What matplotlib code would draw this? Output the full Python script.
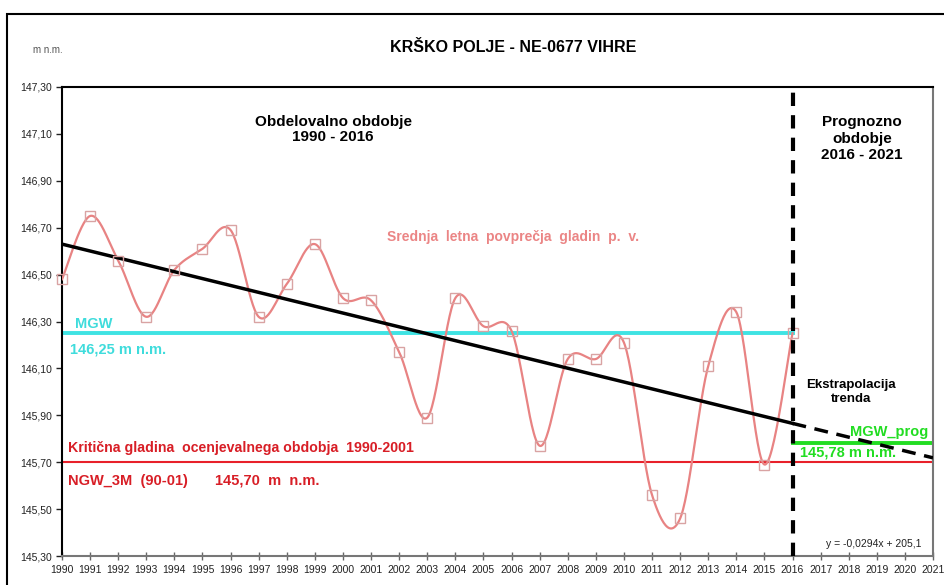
import numpy as np
import matplotlib
matplotlib.use("Agg")
import matplotlib.pyplot as plt
from matplotlib.patches import Rectangle
from matplotlib.ticker import FuncFormatter, FixedLocator, MultipleLocator

plt.rcParams['font.family'] = ['Liberation Sans', 'DejaVu Sans']

# yearly mean groundwater levels (m n.m.)
years = list(range(1990, 2017))
levels = [146.48, 146.75, 146.56, 146.32, 146.52, 146.61, 146.69, 146.32, 146.46,
          146.63, 146.40, 146.39, 146.17, 145.89, 146.40, 146.28, 146.26, 145.77,
          146.14, 146.14, 146.21, 145.56, 145.46, 146.11, 146.34, 145.69, 146.25]

y_ticks = [145.30, 145.50, 145.70, 145.90, 146.10, 146.30, 146.50, 146.70,
           146.90, 147.10, 147.30]

mgw = 146.25          # 1990-2016
mgw_prog = 145.78     # 2016-2021
ngw_3m = 145.70
trend_slope = -0.0294
trend_1990 = 146.63
split_year = 2016
end_year = 2021


def excel_smooth(x, y, n=30):
    # Catmull-Rom style bezier like Excel's "smoothed line"
    x = np.asarray(x, float)
    y = np.asarray(y, float)
    px = np.concatenate([[x[0]], x, [x[-1]]])
    py = np.concatenate([[y[0]], y, [y[-1]]])
    xs, ys = [], []
    t = np.linspace(0, 1, n)
    for i in range(1, len(px) - 2):
        p0 = np.array([px[i], py[i]])
        p3 = np.array([px[i + 1], py[i + 1]])
        p1 = p0 + (p3 - np.array([px[i - 1], py[i - 1]])) / 6
        p2 = p3 - (np.array([px[i + 2], py[i + 2]]) - p0) / 6
        b = ((1 - t) ** 3)[:, None] * p0 + (3 * (1 - t) ** 2 * t)[:, None] * p1 \
            + (3 * (1 - t) * t ** 2)[:, None] * p2 + (t ** 3)[:, None] * p3
        xs.append(b[:, 0])
        ys.append(b[:, 1])
    return np.concatenate(xs), np.concatenate(ys)


fig = plt.figure(figsize=(9.45, 5.85), dpi=100)
ax = fig.add_axes([62 / 945, 1 - 556 / 585, (933 - 62) / 945, (556 - 87) / 585])

# outer frame (cut off at right and bottom)
fig.patches.append(Rectangle((7 / 945, -0.1), 1.2, 1 - 14 / 585 + 0.1,
                             transform=fig.transFigure, fill=False,
                             edgecolor='black', linewidth=1.5, clip_on=False))

# reference lines
ax.plot([1990, split_year], [mgw, mgw], color='#3FE3E3', lw=2.8, zorder=2)
ax.plot([split_year, end_year], [mgw_prog, mgw_prog], color='#22DD22', lw=2.8, zorder=2)
ax.plot([1990, end_year], [ngw_3m, ngw_3m], color='#E8202A', lw=1.5, zorder=2)

# trend
tx = np.array([1990, split_year])
ax.plot(tx, trend_1990 + trend_slope * (tx - 1990), color='black', lw=2.5, zorder=4)
tx2 = np.array([split_year, end_year])
ax.plot(tx2, trend_1990 + trend_slope * (tx2 - 1990), color='black', lw=2.5,
        dashes=(4, 2.5), zorder=4)

# smoothed yearly means
sx, sy = excel_smooth(years, levels)
ax.plot(sx, sy, color='#E88383', lw=1.6, zorder=3)
ax.plot(years, levels, ls='none', marker='s', ms=6.5, mfc='none',
        mec='#D9A3A3', mew=1.0, zorder=5, clip_on=False)

# split line
ax.axvline(split_year, color='black', lw=3, dashes=(3.2, 2.2), zorder=6)

ax.set_xlim(1990, 2021)
ax.set_ylim(145.30, 147.30)
ax.xaxis.set_major_locator(MultipleLocator(1))
ax.yaxis.set_major_locator(FixedLocator(y_ticks))
ax.yaxis.set_major_formatter(FuncFormatter(lambda v, p: f"{v:.2f}".replace('.', ',')))
ax.tick_params(axis='both', labelsize=7.5, colors='#333333', length=4, width=1)
ax.tick_params(axis='x', colors='#666666', labelcolor='#222222', direction='inout', length=6)
ax.tick_params(axis='y', labelcolor='#222222', colors='#222222')
for s in ['left', 'top']:
    ax.spines[s].set_color('black')
    ax.spines[s].set_linewidth(1.5)
ax.spines['right'].set_color('#777777')
ax.spines['right'].set_linewidth(1.5)
ax.spines['bottom'].set_color('#777777')
ax.spines['bottom'].set_linewidth(1.5)

# texts
fig.text(0.543, 1 - 48 / 585, 'KRŠKO POLJE - NE-0677 VIHRE', ha='center', va='center',
         fontsize=11.5, fontweight='bold')
fig.text(33 / 945, 1 - 50 / 585, 'm n.m.', ha='left', va='center', fontsize=7, color='#555555')

ax.text(1999.65, 147.12, 'Obdelovalno obdobje\n1990 - 2016', ha='center', va='center',
        fontsize=11, fontweight='bold', linespacing=1.1)
ax.text(2018.47, 147.08, 'Prognozno\nobdobje\n2016 - 2021', ha='center', va='center',
        fontsize=11, fontweight='bold', linespacing=1.25)
ax.text(2001.57, 146.66, 'Srednja  letna  povprečja  gladin  p.  v.', ha='left', va='center',
        fontsize=10, fontweight='bold', color='#EB8585')
ax.text(1990.46, 146.29, 'MGW', ha='left', va='center', fontsize=10.5,
        fontweight='bold', color='#3FDCDC')
ax.text(1990.28, 146.18, '146,25 m n.m.', ha='left', va='center', fontsize=10.5,
        fontweight='bold', color='#3FDCDC')
ax.text(1990.21, 145.76, 'Kritična gladina  ocenjevalnega obdobja  1990-2001', ha='left',
        va='center', fontsize=10.2, fontweight='bold', color='#D81E26')
ax.text(1990.21, 145.62, 'NGW_3M  (90-01)', ha='left', va='center', fontsize=10.5,
        fontweight='bold', color='#D81E26')
ax.text(1995.45, 145.62, '145,70  m  n.m.', ha='left', va='center', fontsize=10.5,
        fontweight='bold', color='#D81E26')
ax.text(2018.08, 146.00, 'Ekstrapolacija\ntrenda', ha='center', va='center',
        fontsize=9.5, fontweight='bold', linespacing=1.2)
ax.text(2020.82, 145.83, 'MGW_prog', ha='right', va='center', fontsize=10.5,
        fontweight='bold', color='#22DD22')
ax.text(2016.27, 145.74, '145,78 m n.m.', ha='left', va='center', fontsize=10.5,
        fontweight='bold', color='#22DD22')
ax.text(2020.6, 145.35, 'y = -0,0294x + 205,1', ha='right', va='center', fontsize=7.5,
        color='#222222')

fig.savefig('out.png', dpi=100)
